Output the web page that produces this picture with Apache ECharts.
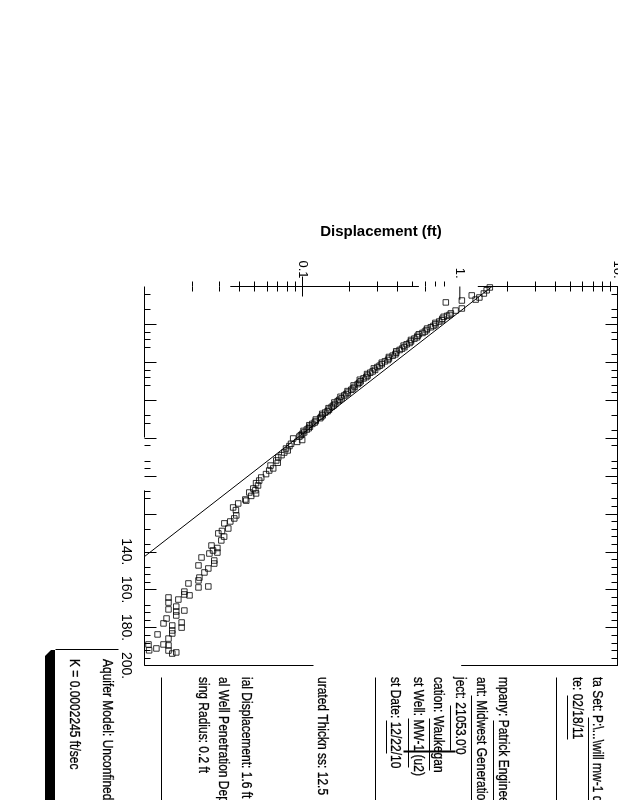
<!DOCTYPE html>
<html><head><meta charset="utf-8">
<style>html,body{margin:0;padding:0;background:#fff;overflow:hidden}#c{width:618px;height:800px}</style>
<script src="https://cdn.jsdelivr.net/npm/echarts@6/dist/echarts.min.js"></script>
</head><body><div id="c"></div>
<script>
const timeValues = [0.5,2,3.7,4.7,5.8,6.9,7.4,8.4,11.6,12.7,14.2,15.5,17,18.5,20,21.5,23,24.5,26,27.5,29,30.5,32,33.5,35,36.5,38,39.5,41,42.5,44,45.5,47,48.5,50,51.5,53,54.5,56,57.5,59,60.5,62,63.5,65,66.5,68,69.5,71,72.5,74,75.5,77,78.5,80.2,81,83,85.5,87.6,90.2,91.8,96,97.1,100.8,102.4,105,106.6,108.7,109.2,112.4,113,114.5,116.6,120.8,122.4,125,127.7,130.3,134,136.7,139.3,140.4,140.9,143,144.6,146.2,147.2,148.8,150.9,153.6,155.1,156.7,158.3,158.8,161,162.5,163,164.1,165.2,166.8,168.9,170.4,171,171.5,173.6,175.2,177.3,177.8,178.9,180,181.5,183.1,183.6,185.8,188.9,188.9,189.4,191,192,192.1,193.1,193.7,
 15,16,17.8,19.2,20.8,22.2,23.8,25.2,26.8,28.2,29.8,31.2,32.8,34.2,35.8,37.2,38.8,40.2,41.8,43.2,44.8,46.2,47.8,49.2,50.8,52.2,53.8,55.2,56.8,58.2,59.8,61.2,62.8,64.2,65.8,67.2,68.8,70.2,71.8,73.2,74.8,76.2,77.8,79.2,82,84.2,86.5,89,93,94.5,99,103.8,107.5,110.5,118,124,129,132,138];
const displacementValues = [1.55,1.48,1.42,1.19,1.33,1.26,1.03,0.815,1.03,0.94,0.877,0.83,0.775,0.74,0.70,0.655,0.615,0.58,0.54,0.515,0.49,0.46,0.445,0.415,0.395,0.375,0.355,0.335,0.32,0.30,0.29,0.27,0.26,0.245,0.235,0.225,0.215,0.205,0.195,0.185,0.178,0.168,0.162,0.154,0.148,0.14,0.135,0.13,0.122,0.116,0.112,0.107,0.103,0.098,0.0877,0.10,0.085,0.079,0.077,0.0705,0.0685,0.0655,0.0618,0.055,0.0534,0.0525,0.049,0.0462,0.051,0.0436,0.0442,0.0393,0.0365,0.0382,0.0371,0.0321,0.034,0.0294,0.0307,0.0266,0.0272,0.029,0.0258,0.023,0.0277,0.0277,0.022,0.0254,0.024,0.0223,0.022,0.019,0.0254,0.022,0.0179,0.0179,0.0193,0.0142,0.0164,0.0142,0.0159,0.0142,0.0179,0.0159,0.0159,0.0138,0.0172,0.0132,0.015,0.0172,0.015,0.015,0.0121,0.0142,0.0106,0.0132,0.0142,0.0119,0.0107,0.0142,0.0159,0.015,
 0.86,0.79,0.77,0.70,0.68,0.62,0.60,0.55,0.535,0.49,0.48,0.44,0.43,0.395,0.39,0.355,0.35,0.32,0.31,0.285,0.28,0.258,0.255,0.232,0.23,0.212,0.21,0.194,0.19,0.175,0.172,0.16,0.158,0.147,0.145,0.134,0.132,0.122,0.12,0.111,0.11,0.102,0.10,0.096,0.093,0.083,0.081,0.074,0.070,0.063,0.059,0.051,0.0505,0.0475,0.038,0.035,0.031,0.032,0.029];
const fitLine = [[1.6,0],[0.01,142.5]];
const unitTickExtension = [[1,0],[1,7]];

const timeMajorTicks = [20,40,60,80,100,120,140,160,180,200];
const timeLabelTicks = [140,160,180,200];
const leftMinorTicks = [4,12,24,28,32,44,48,52,68,72,84,92,96,108,112,128,136,148,152,156,168,172,176,184,188,192,196];
const rightMinorTicks = [4,12,16,24,28,36,44,48,52,56,68,76,84,92,96,104,112,116,124,128,132,136,144,148,152,156,164,168,172,176,184,188,192,196];
const dispMajorTop = [0.1];
const dispLabelTop = [0.1,1,10];
const dispMinorTop = [0.02,0.03,0.04,0.05,0.06,0.07,0.08,0.09,0.2,0.3,0.4,0.6,2,3,4,5,6,7,8,9];
const dispMajorBottom = [0.1];
const dispMinorBottom = [0.02,0.03,0.04,0.05,0.06,0.07,0.08,0.09,0.2,0.3,0.4,0.5,0.6,0.7,0.8,2,3,4,5,6,7,8,9];
const topSegments = [[0.035,0.55],[1.3,10]];
const bottomSegments = [[0.01,0.118],[1.02,10]];
const leftSegments = [[0,79.7],[107.6,200]];

const infoLines = [
 ["Aquifer Model: Unconfined",107,659],["K = 0.0002245 ft/sec",74,659],
 ["sing Radius: 0.2 ft",203,677],["al Well Penetration Dep",223,677],["ial Displacement: 1.6 ft",246,677],
 ["urated Thickn ss: 12.5",322,677],
 ["st Date: 12/22/10",395,677],["st Well: MW-1 (u2)",418,677],["cation: Waukegan",438,677],
 ["ject: 21053.0'0",460,677],["ant: Midwest Generation",481,677],["mpany: Patrick Enginee",503,677],
 ["te: 02/18/11",577,677],["ta Set: P:\\...\\will mw-1 d",597,677]
];
const ruleLines = [
 [161,677,161,800,1],[375,677,375,800,1],[556,677,556,800,1],
 [386,720,386,753,1],[408,718,408,767,1],[429,718,429,770,1],[450,705,450,750,1],[471,695,471,800,1],[493,720,493,800,1],
 [567,695,567,739,1],[588,717,588,800,1],[55,649,118,649,1],[403,751,455,751,2]
];

function segs(list, horiz, fixed){
  const out=[];
  list.forEach(s=>{
    s.forEach(v=>out.push(horiz?[v,fixed]:[fixed,v]));
    out.push([null,null]);
  });
  return out;
}
const mkX=(pos,vals,len,labels)=>({type:'log',logBase:10,min:0.01,max:10,position:pos,gridIndex:0,
  splitLine:{show:false},minorTick:{show:false},minorSplitLine:{show:false},
  axisLine:{show:false},
  axisTick:{show:true,inside:true,length:len,customValues:vals,lineStyle:{color:'#000',width:1}},
  axisLabel:labels?{show:true,rotate:-90,margin:8,fontFamily:'Liberation Sans',fontSize:13,color:'#000',customValues:labels,hideOverlap:false,showMinLabel:true,showMaxLabel:true,
    formatter:v=>(+v)>=1?`${Math.round(+v)}.`:`${+v}`}:{show:false}});
const mkY=(pos,vals,len,labels,line)=>({type:'value',min:0,max:200,inverse:true,position:pos,
  splitLine:{show:false},axisLine:{show:!!line,onZero:false,lineStyle:{color:'#000',width:1}},
  axisTick:{show:true,inside:true,length:len,customValues:vals,lineStyle:{color:'#000',width:1}},
  axisLabel:labels?{show:true,rotate:-90,margin:12,fontFamily:'Liberation Sans',fontSize:14,color:'#000',customValues:labels,formatter:v=>`${v}.`}:{show:false}});

const graphics=[
 {type:'polygon',shape:{points:[[45,800],[45,656],[51,650],[55,650],[55,800]]},style:{fill:'#000'}}
];
ruleLines.forEach(r=>graphics.push({type:'line',shape:{x1:r[0]+.5,y1:r[1]+.5,x2:r[2]+.5,y2:r[3]+.5},style:{stroke:'#000',lineWidth:r[4]}}));
infoLines.forEach(t=>graphics.push({type:'text',x:t[1],y:t[2],rotation:-Math.PI/2,scaleY:1.15,
  style:{text:t[0],font:'12px "Liberation Sans"',fill:'#000',stroke:'#000',lineWidth:0.25,textAlign:'left',textVerticalAlign:'middle'}}));

const chart=echarts.init(document.getElementById('c'),null,{renderer:'canvas',width:618,height:800});
const topAxis=mkX('top',dispMajorTop,10,dispLabelTop);
topAxis.name='Displacement (ft)';topAxis.nameLocation='middle';topAxis.nameGap=47;
topAxis.nameTextStyle={fontFamily:'Liberation Sans',fontSize:15,fontWeight:'bold',color:'#000'};
chart.setOption({
  animation:false,backgroundColor:'#fff',
  grid:{left:144.5,top:286.5,width:473,height:379,containLabel:false,outerBoundsMode:'none'},
  xAxis:[topAxis,mkX('top',dispMinorTop,5),mkX('bottom',dispMajorBottom,10),mkX('bottom',dispMinorBottom,5)],
  yAxis:[mkY('left',timeMajorTicks,12,timeLabelTicks),mkY('left',leftMinorTicks,6),mkY('right',timeMajorTicks,12,null,true),mkY('right',rightMinorTicks,6)],
  graphic:graphics,
  series:[
    {type:'scatter',name:'Observed',symbol:'rect',symbolSize:5.5,clip:false,
     data:timeValues.map((t,i)=>[displacementValues[i],t]),
     itemStyle:{color:'transparent',borderColor:'#000',borderWidth:1}},
    {type:'line',name:'Fit',data:fitLine,symbol:'none',clip:false,lineStyle:{color:'#000',width:1}},
    {type:'line',name:'UnitTick',data:unitTickExtension,symbol:'none',clip:false,lineStyle:{color:'#000',width:1}},
    {type:'line',name:'Top',data:segs(topSegments,true,0),symbol:'none',clip:false,lineStyle:{color:'#000',width:1}},
    {type:'line',name:'Bottom',data:segs(bottomSegments,true,200),symbol:'none',clip:false,lineStyle:{color:'#000',width:1}},
    {type:'line',name:'Left',data:segs(leftSegments,false,0.01),symbol:'none',clip:false,lineStyle:{color:'#000',width:1}}
  ]
});
</script></body></html>
